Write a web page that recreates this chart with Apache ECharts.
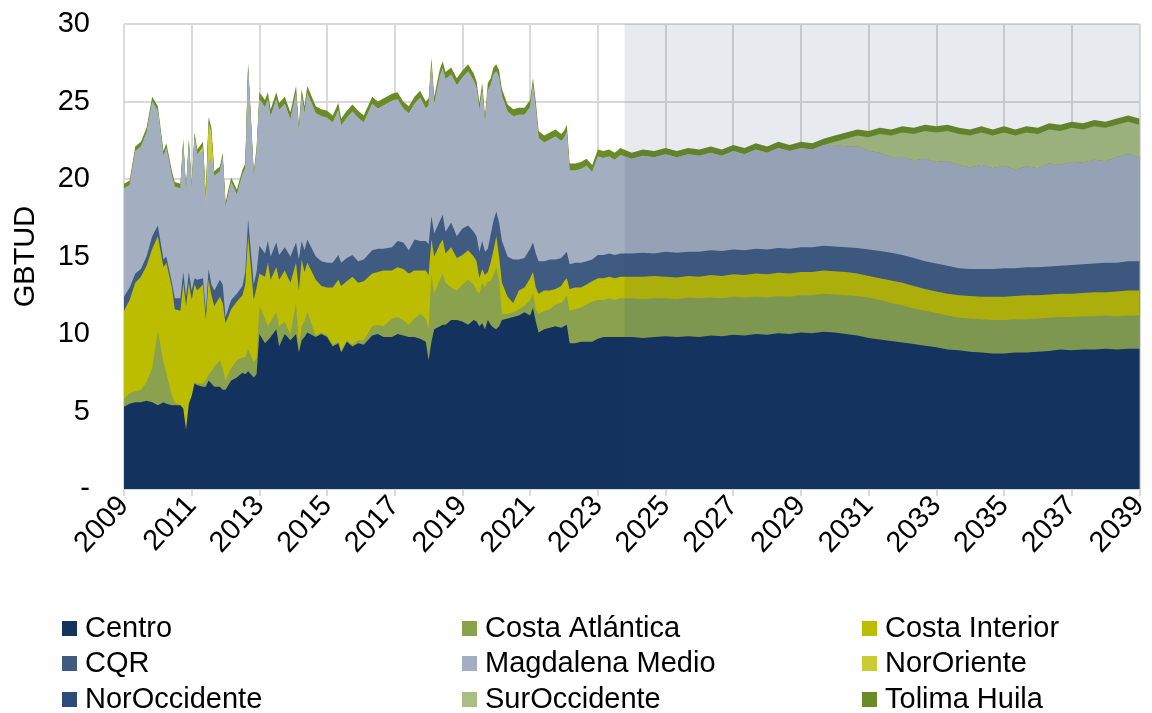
<!DOCTYPE html>
<html>
<head>
<meta charset="utf-8">
<script src="https://cdn.jsdelivr.net/npm/echarts@6/dist/echarts.min.js"></script>
<style>
  html, body { margin: 0; padding: 0; background: #fff; }
  #chart { width: 1152px; height: 713px; }
</style>
</head>
<body>
<div id="chart"></div>
<script>
// Sample dates as months counted from January 2009 (history bi-monthly/irregular, projection every 4 months)
const months = [
  0,2,4,6,8,10,12,14,15,17,18,20,21,22,23,24,25,26,28,29,30,31,32,34,35,36,38,40,42,43,44,46,47,
  48,50,51,52,54,55,57,59,61,62,63,64,65,68,70,72,74,76,77,79,81,83,85,88,90,92,95,
  97,99,101,103,105,107,108,109,110,112,113,114,116,118,120,122,124,125,126,127,128,129,130,131,132,133,134,136,138,140,142,144,145,146,
  147,149,151,153,155,156,157,158,160,162,164,166,168,170,172,174,176,
  180,184,188,192,196,200,204,208,212,216,220,224,228,232,236,240,244,248,252,256,260,264,268,272,276,280,284,288,292,296,300,304,308,312,316,320,324,328,332,336,340,344,348,352,356,360
];

// Start of the projected period (months from January 2009)
const forecastStartMonth = 177.5;

// Supply by region, GBTUD
const centro = [
  5.3,5.5,5.6,5.6,5.7,5.6,5.4,5.6,5.5,5.4,5.4,5.4,5.2,3.8,5.5,6.0,6.8,6.7,6.6,6.6,7.0,6.8,6.6,6.6,6.4,6.4,7.0,7.2,7.5,7.4,7.6,7.2,7.4,
  10.0,9.4,9.6,9.8,10.3,9.2,10.0,9.6,10.0,8.8,9.6,9.8,10.1,9.8,10.0,9.8,9.2,9.4,8.8,9.5,9.2,9.4,9.3,9.9,10.0,9.8,9.8,
  10.0,9.9,9.8,9.8,9.7,9.5,8.3,9.5,10.3,10.5,10.6,10.6,10.9,10.9,10.8,10.6,10.9,10.8,10.5,10.7,10.3,10.9,10.6,10.4,10.3,10.5,10.9,11.0,11.1,11.2,11.4,11.2,11.7,10.8,
  10.1,10.3,10.4,10.5,10.4,10.5,10.6,9.4,9.4,9.5,9.5,9.5,9.7,9.8,9.8,9.8,9.8,
  9.8,9.75,9.8,9.85,9.8,9.85,9.8,9.9,9.85,9.95,9.9,10.0,9.95,10.05,10.0,10.1,10.05,10.15,10.1,10.0,9.9,9.75,9.65,9.55,9.45,9.35,9.25,9.15,9.0,8.95,8.85,8.8,8.75,8.75,8.8,8.8,8.85,8.9,9.0,8.95,9.0,9.0,9.05,9.0,9.05,9.05
];
const costaAtlantica = [
  0.5,0.7,0.7,0.8,1.2,2.2,4.8,2.6,2.0,0.6,0.2,0,0,0,0,0,0.1,0.1,0.2,0.4,0.4,0.8,1.3,1.7,1.4,0.6,0.8,1.1,1.0,1.1,1.4,1.0,1.0,
  1.8,1.6,0.9,1.0,1.1,1.3,0.8,0.4,2.0,0.4,0.9,1.0,1.3,0.1,0.1,0.1,0.1,0.1,0.1,0.1,0.1,0.2,0.3,0.6,0.6,0.7,1.2,
  1.1,1.0,0.8,1.2,1.6,1.5,2.0,4.4,2.3,3.0,3.3,2.7,2.1,1.9,2.4,2.9,2.3,2.0,2.1,2.6,2.7,2.5,2.8,3.4,4.0,3.0,0.4,0.3,0.3,0.4,0.4,1.0,0.9,0.8,
  1.2,1.2,1.2,1.4,1.6,1.7,1.9,2.1,2.2,2.2,2.4,2.6,2.5,2.4,2.5,2.4,2.5,
  2.5,2.5,2.5,2.45,2.45,2.5,2.5,2.45,2.45,2.45,2.45,2.4,2.4,2.4,2.4,2.4,2.45,2.45,2.45,2.5,2.55,2.6,2.55,2.45,2.4,2.3,2.25,2.2,2.2,2.1,2.15,2.15,2.15,2.15,2.15,2.15,2.15,2.15,2.1,2.15,2.15,2.15,2.15,2.15,2.15,2.15
];
const costaInterior = [
  5.7,6.0,7.0,7.3,7.5,7.7,6.1,6.1,7.1,7.0,6.0,6.1,8.1,8.0,7.8,6.2,6.3,6.0,6.4,3.9,6.1,4.9,3.9,4.1,4.2,3.7,3.8,3.8,4.0,4.7,7.3,4.0,4.6,
  2.1,2.7,4.1,2.7,2.9,3.0,3.3,3.3,2.6,3.6,4.3,3.2,3.2,3.6,3.0,3.1,3.7,4.0,4.2,3.8,4.4,3.7,3.8,3.4,3.4,3.6,3.1,
  3.2,3.3,3.3,3.1,2.8,3.1,3.5,2.2,2.4,2.3,2.2,1.9,2.6,2.1,1.9,1.9,1.8,1.9,1.0,0.9,0.8,0.6,1.2,1.6,2.0,1.5,2.0,1.1,0.6,1.2,1.2,1.4,1.4,1.4,
  1.3,1.3,1.2,1.0,1.1,1.2,1.1,1.4,1.4,1.3,1.3,1.3,1.4,1.4,1.4,1.4,1.4,
  1.4,1.45,1.45,1.4,1.4,1.4,1.4,1.45,1.45,1.45,1.45,1.5,1.5,1.5,1.5,1.5,1.5,1.5,1.5,1.5,1.45,1.4,1.4,1.45,1.45,1.45,1.4,1.4,1.4,1.45,1.45,1.45,1.5,1.5,1.5,1.55,1.5,1.5,1.5,1.5,1.5,1.55,1.5,1.6,1.6,1.6
];
const cqr = [
  0.9,0.8,0.6,0.5,0.6,0.8,0.7,0.5,0.4,0.3,0.7,0.8,0.7,0.6,0.7,0.6,0.4,0.7,0.4,0.6,0.7,0.7,1.0,1.1,1.2,0.4,0.6,0.5,0.6,0.8,1.1,1.0,1.0,
  1.8,1.5,1.4,1.5,1.6,1.6,1.5,1.7,1.3,2.0,1.2,1.4,1.5,1.5,1.6,1.6,1.6,1.6,1.5,1.5,1.4,1.4,1.4,1.5,1.5,1.4,1.5,
  1.7,1.7,1.5,2.0,1.9,1.9,2.0,1.5,1.5,1.5,1.6,1.4,1.6,1.4,1.7,1.6,1.6,1.6,1.7,1.8,1.5,1.5,1.8,1.9,1.6,2.2,2.7,2.6,2.8,2.0,1.9,1.9,1.9,2.2,
  2.1,1.9,2.0,1.9,1.8,1.7,1.7,1.6,1.6,1.6,1.5,1.4,1.5,1.5,1.5,1.5,1.5,
  1.5,1.55,1.45,1.6,1.6,1.55,1.6,1.6,1.6,1.6,1.6,1.6,1.6,1.6,1.6,1.6,1.6,1.6,1.6,1.6,1.65,1.7,1.75,1.8,1.8,1.8,1.8,1.8,1.8,1.75,1.75,1.8,1.8,1.85,1.8,1.8,1.8,1.8,1.8,1.85,1.85,1.85,1.9,1.85,1.9,1.9
];
const magdalenaMedio = [
  7.0,6.6,7.9,7.9,8.0,8.7,7.4,6.7,7.0,6.9,7.2,7.1,8.3,6.8,8.3,6.6,9.1,8.1,8.2,6.8,7.0,8.2,7.4,7.0,8.2,7.1,7.6,6.4,7.2,6.7,9.8,7.0,7.7,
  9.45,9.45,9.15,9.05,9.25,9.35,9.25,8.85,9.65,8.25,9.35,8.85,9.45,9.25,9.35,9.35,9.05,9.35,8.85,9.05,9.25,9.25,8.85,9.45,9.05,9.25,9.45,
  9.15,8.65,8.85,8.75,9.25,8.55,8.95,9.75,8.35,9.35,9.45,9.85,9.55,9.75,9.75,9.95,9.75,9.55,9.15,9.75,8.35,10.25,9.65,9.45,9.05,9.35,9.35,9.35,9.25,9.35,9.25,9.15,10.15,9.35,
  7.95,7.65,7.75,7.95,7.55,7.55,7.75,6.05,5.95,6.05,6.15,5.65,6.35,6.25,6.25,6.15,6.35,
  6.1,6.25,6.2,6.3,6.15,6.3,6.2,6.3,6.15,6.35,6.2,6.4,6.25,6.45,6.3,6.4,6.3,6.5,6.55,6.5,6.55,6.35,6.35,6.15,6.3,6.3,6.6,6.55,6.75,6.65,6.55,6.7,6.5,6.6,6.35,6.5,6.4,6.65,6.5,6.65,6.55,6.7,6.55,6.8,6.9,6.7
];
const norOriente = [
  0,0,0,0,0,0,0,0,0,0,0,0,0,0,0,0,0,0,0.3,0.5,2.5,1.6,0,0,0,0,0,0,0,0,0,0,0,
  0,0,0,0,0,0,0,0,0,0,0,0,0,0,0,0,0,0,0,0,0,0,0,0,0,0,0,
  0,0,0,0,0,0,0,0,0,0,0,0,0,0,0,0,0,0,0,0,0,0,0,0,0,0,0,0,0,0,0,0,0,0,
  0,0,0,0,0,0,0,0,0,0,0,0,0,0,0,0,0,
  0,0,0,0,0,0,0,0,0,0,0,0,0,0,0,0,0,0,0,0,0,0,0,0,0,0,0,0,0,0,0,0,0,0,0,0,0,0,0,0,0,0,0,0,0,0
];
const norOccidente = [
  0,0,0,0,0,0,0,0,0,0,0,0,0,0,0,0,0,0,0,0,0,0,0,0,0,0,0,0,0,0,0,0,0,
  0,0,0,0,0,0,0,0,0,0,0,0,0,0,0,0,0,0,0,0,0,0,0,0,0,0,0,
  0,0,0,0,0,0,0,0,0,0,0,0,0,0,0,0,0,0,0,0,0,0,0,0,0,0,0,0,0,0,0,0,0,0,
  0,0,0,0,0,0,0,0,0,0,0,0,0,0,0,0,0,
  0,0,0,0,0,0,0,0,0,0,0,0,0,0,0,0,0,0,0,0,0,0,0,0,0,0,0,0,0,0,0,0,0,0,0,0,0,0,0,0,0,0,0,0,0,0
];
const surOccidente = [
  0,0,0,0,0,0,0,0,0,0,0,0,0,0,0,0,0,0,0,0,0,0,0,0,0,0,0,0,0,0,0,0,0,
  0,0,0,0,0,0,0,0,0,0,0,0,0,0,0,0,0,0,0,0,0,0,0,0,0,0,0,
  0,0,0,0,0,0,0,0,0,0,0,0,0,0,0,0,0,0,0,0,0,0,0,0,0,0,0,0,0,0,0,0,0,0,
  0,0,0,0,0,0,0,0,0,0,0,0,0,0,0,0,0,
  0,0,0,0,0,0,0,0,0,0,0,0,0,0,0,0,0,0,0.2,0.5,0.7,0.9,1.2,1.4,1.6,1.7,1.8,1.9,1.95,2.0,2.05,2.1,2.1,2.15,2.2,2.2,2.2,2.2,2.2,2.2,2.15,2.15,2.15,2.1,2.1,2.1
];
const tolimaHuila = [
  0.3,0.3,0.3,0.3,0.3,0.3,0.3,0.3,0.3,0.3,0.3,0.3,0.3,0.3,0.3,0.3,0.3,0.3,0.3,0.3,0.3,0.3,0.3,0.3,0.3,0.3,0.3,0.3,0.3,0.3,0.3,0.3,0.3,
  0.45,0.45,0.45,0.45,0.45,0.45,0.45,0.45,0.45,0.45,0.45,0.45,0.45,0.45,0.45,0.45,0.45,0.45,0.45,0.45,0.45,0.45,0.45,0.45,0.45,0.45,0.45,
  0.45,0.45,0.45,0.45,0.45,0.45,0.45,0.45,0.45,0.45,0.45,0.45,0.45,0.45,0.45,0.45,0.45,0.45,0.45,0.45,0.45,0.45,0.45,0.45,0.45,0.45,0.45,0.45,0.45,0.45,0.45,0.45,0.45,0.45,
  0.45,0.45,0.45,0.45,0.45,0.45,0.45,0.45,0.45,0.45,0.45,0.45,0.45,0.45,0.45,0.45,0.45,
  0.4,0.4,0.4,0.4,0.4,0.4,0.4,0.4,0.4,0.4,0.4,0.4,0.4,0.4,0.4,0.4,0.4,0.4,0.4,0.4,0.4,0.4,0.4,0.4,0.4,0.4,0.4,0.4,0.4,0.4,0.4,0.4,0.4,0.4,0.4,0.4,0.4,0.4,0.4,0.4,0.4,0.4,0.4,0.4,0.4,0.4
];

// Regions in stacking order (bottom to top); legend reads row by row
const regionNames = ['Centro', 'Costa Atlántica', 'Costa Interior', 'CQR', 'Magdalena Medio',
                     'NorOriente', 'NorOccidente', 'SurOccidente', 'Tolima Huila'];
const regionValues = [centro, costaAtlantica, costaInterior, cqr, magdalenaMedio,
                      norOriente, norOccidente, surOccidente, tolimaHuila];
const regionColors = ['#13325E', '#8AA24E', '#BDBD00', '#3F5B82', '#A3AFC0',
                      '#C9CC33', '#2C4B78', '#A9BE81', '#6A8C26'];

const yTicks = [0, 5, 10, 15, 20, 25, 30];
const font = "'Liberation Sans', Arial, sans-serif";
const textSize = 29;
const gridColor = '#D9D9D9';

// Running totals: each region's area reaches from the axis up to its cumulative level,
// and the lower regions are painted over the higher ones.
const cumulative = [];
regionValues.forEach((vals, k) => {
  cumulative.push(months.map((m, i) => (k === 0 ? 0 : cumulative[k - 1][i]) + vals[i]));
});

const series = [];
for (let k = regionNames.length - 1; k >= 0; k--) {
  series.push({
    name: regionNames[k],
    type: 'line',
    symbol: 'none',
    showSymbol: false,
    smooth: false,
    lineStyle: { width: 0 },
    areaStyle: { color: regionColors[k], opacity: 1, origin: 'start' },
    itemStyle: { color: regionColors[k] },
    z: 2,
    data: months.map((m, i) => [m, cumulative[k][i]])
  });
}

// Shading over the projected period
series.push({
  name: 'proyeccion',
  type: 'custom',
  z: 10,
  silent: true,
  encode: { x: 0 },
  renderItem: function (params, api) {
    const p0 = api.coord([forecastStartMonth, yTicks[yTicks.length - 1]]);
    const p1 = api.coord([months[months.length - 1], yTicks[0]]);
    return {
      type: 'rect',
      shape: { x: p0[0], y: p0[1], width: p1[0] - p0[0], height: p1[1] - p0[1] },
      style: { fill: 'rgba(40,60,100,0.11)' }
    };
  },
  data: [[forecastStartMonth]]
});

const legendLeft = [62, 462, 862];
const legendTop = [614, 649, 685];
const legends = regionNames.map((name, k) => ({
  data: [name],
  left: legendLeft[k % 3],
  top: legendTop[Math.floor(k / 3)],
  icon: 'rect',
  itemWidth: 15,
  itemHeight: 15,
  itemGap: 0,
  padding: 0,
  selectedMode: false,
  textStyle: { fontSize: textSize, color: '#000', fontFamily: font, padding: [0, 0, 0, 3] }
}));

const chart = echarts.init(document.getElementById('chart'), null, { renderer: 'canvas' });
chart.setOption({
  backgroundColor: '#ffffff',
  animation: false,
  grid: { left: 124, right: 8, top: 24, bottom: 224, containLabel: false },
  legend: legends,
  xAxis: {
    type: 'value',
    min: 0,
    max: 360,
    interval: 24,
    axisLine: { show: true, lineStyle: { color: gridColor, width: 2 } },
    axisTick: { show: true, length: 7, lineStyle: { color: gridColor, width: 2 } },
    splitLine: { show: true, lineStyle: { color: gridColor, width: 2 } },
    axisLabel: {
      rotate: 47,
      margin: 12,
      fontSize: textSize,
      color: '#000',
      fontFamily: font,
      formatter: v => String(2009 + v / 12)
    }
  },
  yAxis: {
    type: 'value',
    min: yTicks[0],
    max: yTicks[yTicks.length - 1],
    interval: 5,
    name: 'GBTUD',
    nameLocation: 'middle',
    nameGap: 84,
    nameTextStyle: { fontSize: textSize, color: '#000', fontFamily: font },
    axisLine: { show: false },
    axisTick: { show: false },
    splitLine: { show: true, lineStyle: { color: gridColor, width: 2 } },
    axisLabel: {
      margin: 34,
      fontSize: textSize,
      color: '#000',
      fontFamily: font,
      formatter: v => (v === 0 ? '-' : String(v))
    }
  },
  series
});
</script>
</body>
</html>
